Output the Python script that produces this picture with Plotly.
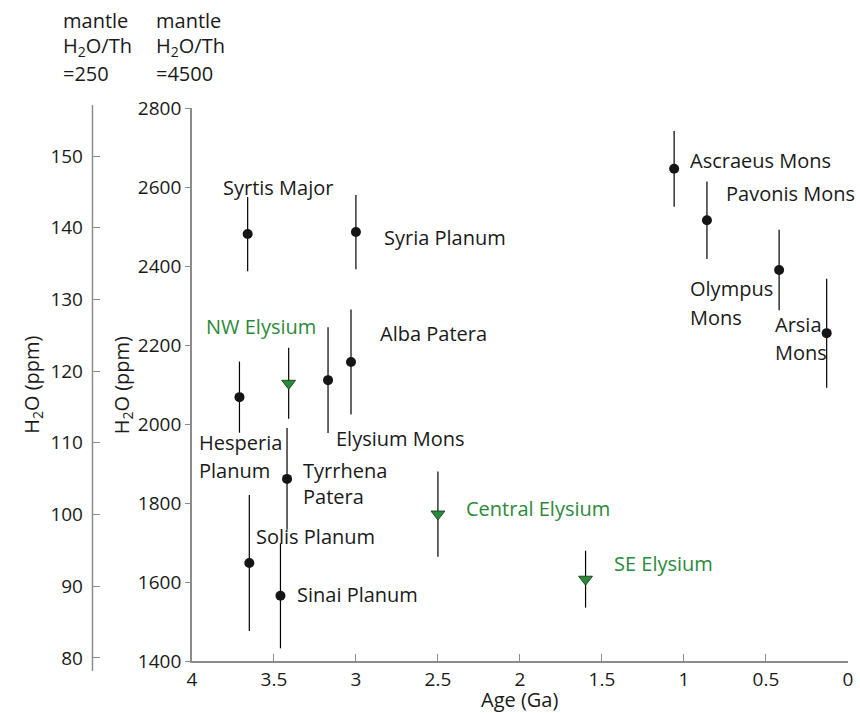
import plotly.graph_objects as go

# Martian volcanic provinces: age (Ga), H2O (ppm), 1-sigma error (ppm)
prov_names = ["Syrtis Major", "Syria Planum", "Ascraeus Mons", "Pavonis Mons",
              "Olympus Mons", "Arsia Mons", "Alba Patera", "Elysium Mons",
              "Hesperia Planum", "Tyrrhena Patera", "Solis Planum", "Sinai Planum"]
prov_age = [3.66, 3.00, 1.06, 0.86, 0.42, 0.13, 3.03, 3.17, 3.71, 3.42, 3.65, 3.46]
prov_h2o = [2481, 2486, 2646, 2516, 2390, 2230, 2157, 2111, 2068, 1861, 1648, 1565]
prov_err = [94, 94, 96, 98, 102, 138, 133, 134, 90, 129, 172, 133]

# Elysium sub-regions (plotted as green triangles)
ely_names = ["NW Elysium", "Central Elysium", "SE Elysium"]
ely_age = [3.41, 2.50, 1.60]
ely_h2o = [2103, 1772, 1607]
ely_err = [90, 108, 72]

# Tick labels
age_ticks = [4, 3.5, 3, 2.5, 2, 1.5, 1, 0.5, 0]
h2o_ticks = [1400, 1600, 1800, 2000, 2200, 2400, 2600, 2800]
alt_ticks = [80, 90, 100, 110, 120, 130, 140, 150]

FONT = "Open Sans"
GREEN = "#2b8a3a"
AXIS = "#8c8c8c"
FS = 20      # point labels, headers, axis titles
TFS = 19     # tick labels

fig = go.Figure()

fig.add_trace(go.Scatter(
    x=prov_age, y=prov_h2o, mode="markers",
    marker=dict(symbol="circle", size=10, color="#151515"),
    error_y=dict(type="data", array=prov_err, visible=True,
                 color="black", thickness=1.2, width=0),
    showlegend=False, hoverinfo="skip"))

fig.add_trace(go.Scatter(
    x=ely_age, y=ely_h2o, mode="markers",
    marker=dict(symbol="triangle-down", size=12, color=GREEN,
                line=dict(color="#1d4d25", width=1)),
    error_y=dict(type="data", array=ely_err, visible=True,
                 color="black", thickness=1.2, width=0),
    showlegend=False, hoverinfo="skip"))

# invisible trace on the alternate H2O axis (mantle H2O/Th = 250)
fig.add_trace(go.Scatter(x=[2], y=[120], yaxis="y2", mode="markers",
                         marker=dict(opacity=0), showlegend=False,
                         hoverinfo="skip"))

# label offsets in pixels relative to each point (left edge, vertical centre)
prov_label_lines = {
    "Syrtis Major": [("Syrtis Major", -27, 47)],
    "Syria Planum": [("Syria Planum", 26, -5)],
    "Ascraeus Mons": [("Ascraeus Mons", 14, 8)],
    "Pavonis Mons": [("Pavonis Mons", 17, 27)],
    "Olympus Mons": [("Olympus", -91, -19), ("Mons", -91, -48)],
    "Arsia Mons": [("Arsia", -54, 9), ("Mons", -54, -19)],
    "Alba Patera": [("Alba Patera", 27, 28)],
    "Elysium Mons": [("Elysium Mons", 6, -58)],
    "Hesperia Planum": [("Hesperia", -42, -45), ("Planum", -42, -73)],
    "Tyrrhena Patera": [("Tyrrhena", 14, 8), ("Patera", 14, -18)],
    "Solis Planum": [("Solis Planum", 5, 27)],
    "Sinai Planum": [("Sinai Planum", 15, 1)],
}
ely_label = {
    "NW Elysium": (-85, 57),
    "Central Elysium": (26, 6),
    "SE Elysium": (26, 16),
}

annotations = []
for name, ax_, ay_ in zip(prov_names, prov_age, prov_h2o):
    for text, dx, dy in prov_label_lines[name]:
        annotations.append(dict(
            x=ax_, y=ay_, xref="x", yref="y", text=text, showarrow=False,
            xanchor="left", yanchor="middle", xshift=dx, yshift=dy,
            font=dict(family=FONT, size=FS, color="#1a1a1a")))
for name, ax_, ay_ in zip(ely_names, ely_age, ely_h2o):
    dx, dy = ely_label[name]
    annotations.append(dict(
        x=ax_, y=ay_, xref="x", yref="y", text=name, showarrow=False,
        xanchor="left", yanchor="middle", xshift=dx, yshift=dy,
        font=dict(family=FONT, size=FS, color=GREEN)))

# column headers above the two H2O axes
W, PH = 848.0, 553.0
def py(p):
    return (661 - p) / PH

for xpix, ratio in [(56, "=250"), (150, "=4500")]:
    for text, ypix in [("mantle", 21), ("H<sub>2</sub>O/Th", 47), (ratio, 74)]:
        annotations.append(dict(
            x=xpix / W, y=py(ypix), xref="paper", yref="paper", text=text,
            showarrow=False, xanchor="left", yanchor="middle",
            font=dict(family=FONT, size=FS, color="#1a1a1a")))

# rotated axis titles
for xpix in (27, 118):
    annotations.append(dict(
        x=xpix / W, y=py(385), xref="paper", yref="paper",
        text="H<sub>2</sub>O (ppm)", textangle=-90, showarrow=False,
        xanchor="center", yanchor="middle",
        font=dict(family=FONT, size=FS, color="#1a1a1a")))

# x axis title
annotations.append(dict(
    x=0.5 * (188 / W + 1), y=py(699), xref="paper", yref="paper",
    text="Age (Ga)", showarrow=False, xanchor="center", yanchor="middle",
    font=dict(family=FONT, size=20, color="#1a1a1a")))

fig.update_layout(
    width=860, height=713,
    margin=dict(l=0, r=12, t=108, b=52),
    paper_bgcolor="white", plot_bgcolor="white",
    font=dict(family=FONT, size=TFS, color="#1a1a1a"),
    xaxis=dict(
        domain=[188 / W, 1], range=[4, 0], tickvals=age_ticks,
        ticktext=[f"{t:g}" for t in age_ticks],
        showgrid=False, zeroline=False, showline=True, linecolor=AXIS,
        linewidth=1.5, ticks="inside", ticklen=7, tickcolor=AXIS,
        tickfont=dict(family=FONT, size=TFS)),
    yaxis=dict(
        range=[1400, 2800], tickvals=h2o_ticks, showgrid=False,
        zeroline=False, showline=True, linecolor=AXIS, linewidth=1.5,
        ticks="outside", ticklen=5, tickcolor=AXIS,
        tickfont=dict(family=FONT, size=TFS)),
    yaxis2=dict(
        overlaying="y", anchor="free", position=88 / W, side="left",
        range=[79.57, 156.7], tickvals=alt_ticks,
        ticktext=[f"{v}\u2002" for v in alt_ticks], showgrid=False,
        zeroline=False, showline=False, ticks="inside", ticklen=7,
        tickcolor=AXIS, tickfont=dict(family=FONT, size=TFS)),
    annotations=annotations,
    shapes=[dict(type="line", xref="paper", yref="paper",
                 x0=88 / W, x1=88 / W, y0=py(671), y1=py(105),
                 line=dict(color=AXIS, width=1.5))],
)

fig.write_html("out.html")
